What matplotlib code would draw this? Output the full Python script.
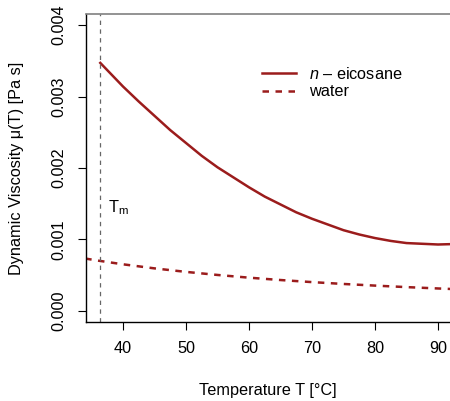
import matplotlib
matplotlib.use("Agg")
import matplotlib.pyplot as plt

plt.rcParams.update({
    "font.family": ["Liberation Sans", "DejaVu Sans"],
    "mathtext.fontset": "custom",
    "mathtext.rm": "Liberation Sans",
    "mathtext.it": "Liberation Sans:italic",
    "font.size": 11.7,
})

# melting temperature of n-eicosane [degC]
T_MELT = 36.4

# n-eicosane viscosity [Pa s], liquid range only
T_eico = [36.4, 40, 42.5, 45, 47.5, 50, 52.5, 55, 57.5, 60, 62.5, 65, 67.5,
          70, 72.5, 75, 77.5, 80, 82.5, 85, 87.5, 90, 92]
mu_eico = [0.00347, 0.00314, 0.00293, 0.00273, 0.00253, 0.00235, 0.00217,
           0.00201, 0.00187, 0.00173, 0.00160, 0.00149, 0.00138, 0.00129,
           0.00121, 0.00113, 0.00107, 0.00102, 0.00098, 0.00095, 0.00094,
           0.00093, 0.000935]

# water viscosity [Pa s]
T_water = [34, 36, 38, 40, 45, 50, 55, 60, 65, 70, 75, 80, 85, 90, 92]
mu_water = [0.000734, 0.000705, 0.000679, 0.000653, 0.000596, 0.000547,
            0.000504, 0.000466, 0.000433, 0.000404, 0.000378, 0.000355,
            0.000334, 0.000315, 0.000308]

RED = "#9b1c1c"

fig = plt.figure(figsize=(4.5, 4.01), dpi=100)
ax = fig.add_axes([86 / 450, 79 / 401, 364 / 450, 308 / 401])

ax.plot(T_eico, mu_eico, color=RED, lw=1.8, label=r"$n$ – eicosane")
ax.plot(T_water, mu_water, color=RED, lw=1.8, ls=(0, (2.6, 2.6)), label="water")
ax.axvline(T_MELT, color="#666666", lw=0.9, ls=(0, (3.5, 3.5)))
ax.text(37.6, 0.00145, r"T$_\mathrm{m}$", ha="left", va="center")

ax.set_xlim(34.13, 91.9)
ax.set_ylim(-0.000154, 0.004154)
ax.set_xticks([40, 50, 60, 70, 80, 90])
ax.set_yticks([0.000, 0.001, 0.002, 0.003, 0.004])
ax.set_yticklabels(["0.000", "0.001", "0.002", "0.003", "0.004"],
                   rotation=90, va="center")
ax.tick_params(direction="out", length=6, width=0.8, pad=8)

ax.spines["right"].set_visible(False)
ax.spines["top"].set_color("#808080")
ax.spines["top"].set_linewidth(1.2)
ax.spines["left"].set_linewidth(1.0)
ax.spines["bottom"].set_linewidth(1.0)

ax.set_xlabel("Temperature T [°C]", labelpad=19)
ax.set_ylabel("Dynamic Viscosity μ(T) [Pa s]", labelpad=20)

ax.legend(loc="upper left", bbox_to_anchor=(262 / 450, 1 - 66 / 401),
          bbox_transform=fig.transFigure, frameon=False, borderpad=0,
          handlelength=2.1, handletextpad=0.8, labelspacing=0.15,
          borderaxespad=0)

fig.savefig("out.png", dpi=100)
